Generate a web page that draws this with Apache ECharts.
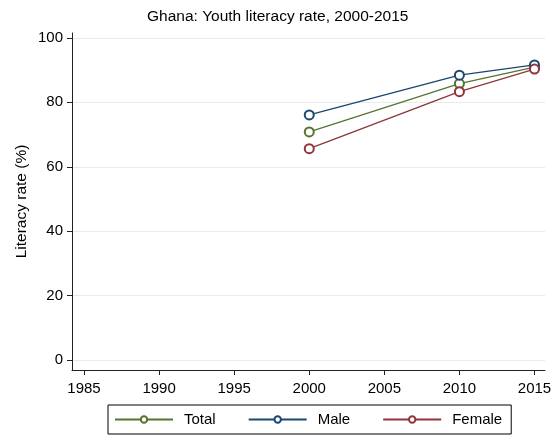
<!DOCTYPE html>
<html>
<head>
<meta charset="utf-8">
<script src="https://cdn.jsdelivr.net/npm/echarts@6/dist/echarts.min.js"></script>
<style>
html,body{margin:0;padding:0;background:#fff;}
#chart{width:559px;height:435px;}
</style>
</head>
<body>
<div id="chart"></div>
<script>
var titleText = 'Ghana: Youth literacy rate, 2000-2015';
var yAxisName = 'Literacy rate (%)';
var years = [2000, 2010, 2015];
var totalValues = [70.8, 85.8, 90.9];
var maleValues = [76.1, 88.4, 91.6];
var femaleValues = [65.6, 83.3, 90.3];
var seriesNames = ['Total', 'Male', 'Female'];
var seriesColors = ['#55752f', '#1a476f', '#90353b'];
var xTicks = [1985, 1990, 1995, 2000, 2005, 2010, 2015];
var yTicks = [0, 20, 40, 60, 80, 100];

function pairs(xs, ys) { return xs.map(function (x, i) { return [x, ys[i]]; }); }
var allValues = [totalValues, maleValues, femaleValues];

var chart = echarts.init(document.getElementById('chart'), null, {renderer: 'canvas'});
var font = 'Liberation Sans, Arial, sans-serif';
chart.setOption({
  backgroundColor: '#ffffff',
  animation: false,
  title: {
    text: titleText, left: 147, top: 7, padding: [2, 0, 2, 0],
    textStyle: {fontFamily: font, fontSize: 15.5, fontWeight: 'normal', color: '#000'}
  },
  grid: {left: 72, right: 14, top: 33, bottom: 65, containLabel: false},
  legend: {
    bottom: 1, left: 108,
    data: seriesNames,
    itemWidth: 58, itemHeight: 8, itemGap: 32,
    padding: [7, 9, 7, 6],
    borderColor: '#000', borderWidth: 1,
    textStyle: {fontFamily: font, fontSize: 15, color: '#000', padding: [0, 0, 0, 6]}
  },
  xAxis: {
    type: 'value', min: 1984.2, max: 2015.7,
    axisLine: {show: true, onZero: false, lineStyle: {color: '#222', width: 1}},
    axisTick: {show: true, length: 5, lineStyle: {color: '#222'}, customValues: xTicks},
    axisLabel: {fontFamily: font, fontSize: 15, color: '#000', margin: 11, customValues: xTicks,
      formatter: function (v) { return String(v); }},
    splitLine: {show: false}
  },
  yAxis: {
    type: 'value', min: -3.04, max: 101.5,
    name: yAxisName, nameLocation: 'middle', nameGap: 42, nameMoveOverlap: false,
    nameTextStyle: {fontFamily: font, fontSize: 15.5, color: '#000'},
    axisLine: {show: true, onZero: false, lineStyle: {color: '#222', width: 1}},
    axisTick: {show: true, length: 5, lineStyle: {color: '#222'}, customValues: yTicks},
    axisLabel: {fontFamily: font, fontSize: 15, color: '#000', margin: 9, customValues: yTicks,
      formatter: function (v) { return String(v); }},
    splitLine: {show: true, lineStyle: {color: '#eaeaea', width: 1}}
  },
  series: seriesNames.map(function (name, i) {
    return {
      name: name, type: 'line',
      data: pairs(years, allValues[i]),
      symbol: 'emptyCircle', symbolSize: 9,
      color: seriesColors[i],
      lineStyle: {width: 1.3, color: seriesColors[i]},
      itemStyle: {color: seriesColors[i], borderWidth: 1.1}
    };
  })
});
</script>
</body>
</html>
